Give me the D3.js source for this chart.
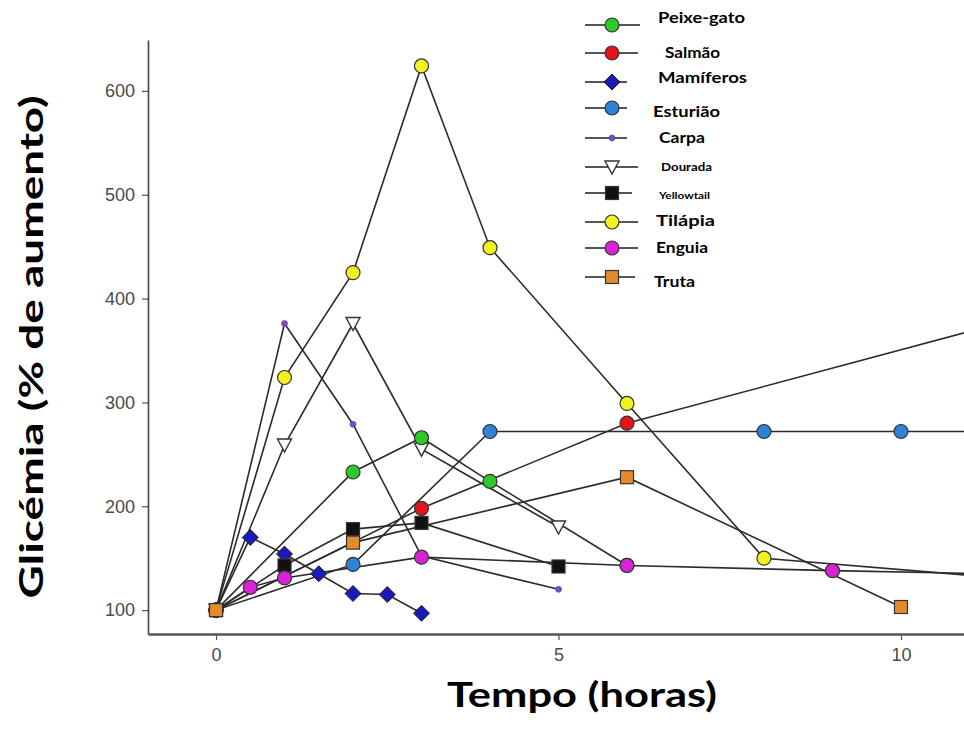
<!DOCTYPE html>
<html><head><meta charset="utf-8">
<script src="https://cdn.jsdelivr.net/npm/d3@7"></script>
<style>body{margin:0;background:#fff}</style>
</head><body><svg id="c" width="964" height="736"></svg>
<script>
// ---- data ----
const speciesNames = ["Peixe-gato","Salmão","Mamíferos","Esturião","Carpa","Dourada","Yellowtail","Tilápia","Enguia","Truta"];
const peixeGato  = [[0,100],[2,233],[3,266],[4,224],[6,143]];
const salmao     = [[0,100],[3,198],[6,280],[12,386]];
const mamiferos  = [[0,100],[0.5,170],[1,154],[1.5,135],[2,116],[2.5,115],[3,97]];
const esturiao   = [[0,100],[2,144],[4,272],[8,272],[10,272],[12,272]];
const carpa      = [[0,100],[1,376],[2,279],[3,152],[5,120]];
const dourada    = [[0,100],[1,259],[2,376],[3,255],[5,180]];
const yellowtail = [[0,100],[1,143],[2,178],[3,184],[5,142]];
const tilapia    = [[0,100],[1,324],[2,425],[3,624],[4,449],[6,299],[8,150],[12,128]];
const enguia     = [[0,100],[0.5,122],[1,131],[3,151],[6,143],[9,138],[12,134]];
const truta      = [[0,100],[2,165],[6,228],[10,103]];
const seriesData = [peixeGato, salmao, mamiferos, esturiao, carpa, dourada, yellowtail, tilapia, enguia, truta];
const xTicks = [0,5,10];
const yTicks = [100,200,300,400,500,600];
const xTitle = "Tempo (horas)";
const yTitle = "Glicémia (% de aumento)";

// ---- styles ----
const markerShapes = ["circle","circle","diamond","circle","dot","triangle","square","circle","circle","square"];
const markerColors = ["#2bcb2b","#e3141e","#1a1ab4","#2e82d6","#7a4cc4","#ffffff","#111111","#f2f21e","#d822d8","#e68a2e"];
const drawOrder = [5,4,2,1,6,3,0,7,8,9];
const legendLabelSize = [15,15,15,15,15,12,10,15,15,15];
const legendLabelLen  = [87,55,89,67,46,51,51,59,52,41];
const legendLabelX    = [658,665,658,653,659,661,659,656,656,654];
const legendRowY      = [25,53,82,108,138,167,193,222,248,277];
const legendLabelY    = [18,53,78,112,138,167,195,221,248,282];
const legendLineEnd   = [640,638,627,627,627,638,632,638,638,635];

const svg = d3.select("#c");
const x = d3.scaleLinear().domain([-0.993, 10.92]).range([148, 964]);
const y = d3.scaleLinear().domain([77, 649]).range([634, 40]);

svg.append("rect").attr("width",964).attr("height",736).attr("fill","#fff");

svg.append("defs").append("clipPath").attr("id","clip")
  .append("rect").attr("x",148).attr("y",0).attr("width",964-148).attr("height",634);

// axes
const tickFont = "'Liberation Sans', Arial, sans-serif";
const gx = svg.append("g").attr("transform","translate(0,634)")
  .call(d3.axisBottom(x).tickValues(xTicks).tickSize(6).tickSizeOuter(0).tickPadding(8));
gx.select(".domain").attr("stroke","#555").attr("stroke-width",2.5);
gx.selectAll(".tick line").attr("stroke","#555").attr("stroke-width",1.2);
gx.selectAll(".tick text").attr("font-family",tickFont).attr("font-size",18).attr("fill","#4a4a4a");

const gy = svg.append("g").attr("transform","translate(148,0)")
  .call(d3.axisLeft(y).tickValues(yTicks).tickSize(6).tickSizeOuter(0).tickPadding(7));
gy.select(".domain").attr("stroke","#444").attr("stroke-width",1.6);
gy.selectAll(".tick line").attr("stroke","#555").attr("stroke-width",1.2);
gy.selectAll(".tick text").attr("font-family",tickFont).attr("font-size",18).attr("fill","#4a4a4a");

// titles
const titleFont = "Lato, 'Open Sans', sans-serif";
svg.append("text").attr("x",582).attr("y",707).attr("text-anchor","middle")
  .attr("font-family",titleFont).attr("font-weight",700).attr("font-size",34)
  .attr("textLength",270).attr("lengthAdjust","spacingAndGlyphs").attr("fill","#000").text(xTitle);
svg.append("text").attr("transform","translate(43,347) rotate(-90)").attr("text-anchor","middle")
  .attr("font-family",titleFont).attr("font-weight",700).attr("font-size",33)
  .attr("textLength",503).attr("lengthAdjust","spacingAndGlyphs").attr("fill","#000").text(yTitle);

// marker drawing
function drawMarker(g, shape, color, cx, cy) {
  if (shape === "circle") {
    g.append("circle").attr("cx",cx).attr("cy",cy).attr("r",7)
      .attr("fill",color).attr("stroke","#333").attr("stroke-width",1.2);
  } else if (shape === "square") {
    g.append("rect").attr("x",cx-6.5).attr("y",cy-6.5).attr("width",13).attr("height",13)
      .attr("fill",color).attr("stroke","#333").attr("stroke-width",1.2);
  } else if (shape === "diamond") {
    g.append("path").attr("d",`M${cx},${cy-8}L${cx+8},${cy}L${cx},${cy+8}L${cx-8},${cy}Z`)
      .attr("fill",color).attr("stroke","#222").attr("stroke-width",1);
  } else if (shape === "triangle") {
    g.append("path").attr("d",`M${cx-7},${cy-6}L${cx+7},${cy-6}L${cx},${cy+7}Z`)
      .attr("fill",color).attr("stroke","#333").attr("stroke-width",1.4);
  } else if (shape === "dot") {
    g.append("circle").attr("cx",cx).attr("cy",cy).attr("r",3)
      .attr("fill",color).attr("stroke","#5a3a9a").attr("stroke-width",0.6);
  }
}

// lines
const plot = svg.append("g").attr("clip-path","url(#clip)");
const line = d3.line().x(d => x(d[0])).y(d => y(d[1]));
drawOrder.forEach(i => {
  plot.append("path").datum(seriesData[i]).attr("d",line)
    .attr("fill","none").attr("stroke","#2b2b2b").attr("stroke-width",1.6);
});
// markers
drawOrder.forEach(i => {
  seriesData[i].forEach(d => {
    if (x(d[0]) <= 964) drawMarker(plot, markerShapes[i], markerColors[i], x(d[0]), y(d[1]));
  });
});

// legend
const lg = svg.append("g");
speciesNames.forEach((name, i) => {
  lg.append("line").attr("x1",585).attr("x2",legendLineEnd[i])
    .attr("y1",legendRowY[i]).attr("y2",legendRowY[i])
    .attr("stroke","#555").attr("stroke-width",2.2);
  drawMarker(lg, markerShapes[i], markerColors[i], 612, legendRowY[i]);
  lg.append("text").attr("x",legendLabelX[i]).attr("y",legendLabelY[i]).attr("dy","0.35em")
    .attr("font-family",titleFont).attr("font-weight",700).attr("font-size",legendLabelSize[i])
    .attr("textLength",legendLabelLen[i]).attr("lengthAdjust","spacingAndGlyphs")
    .attr("fill","#000").text(name);
});
</script>
</body></html>
